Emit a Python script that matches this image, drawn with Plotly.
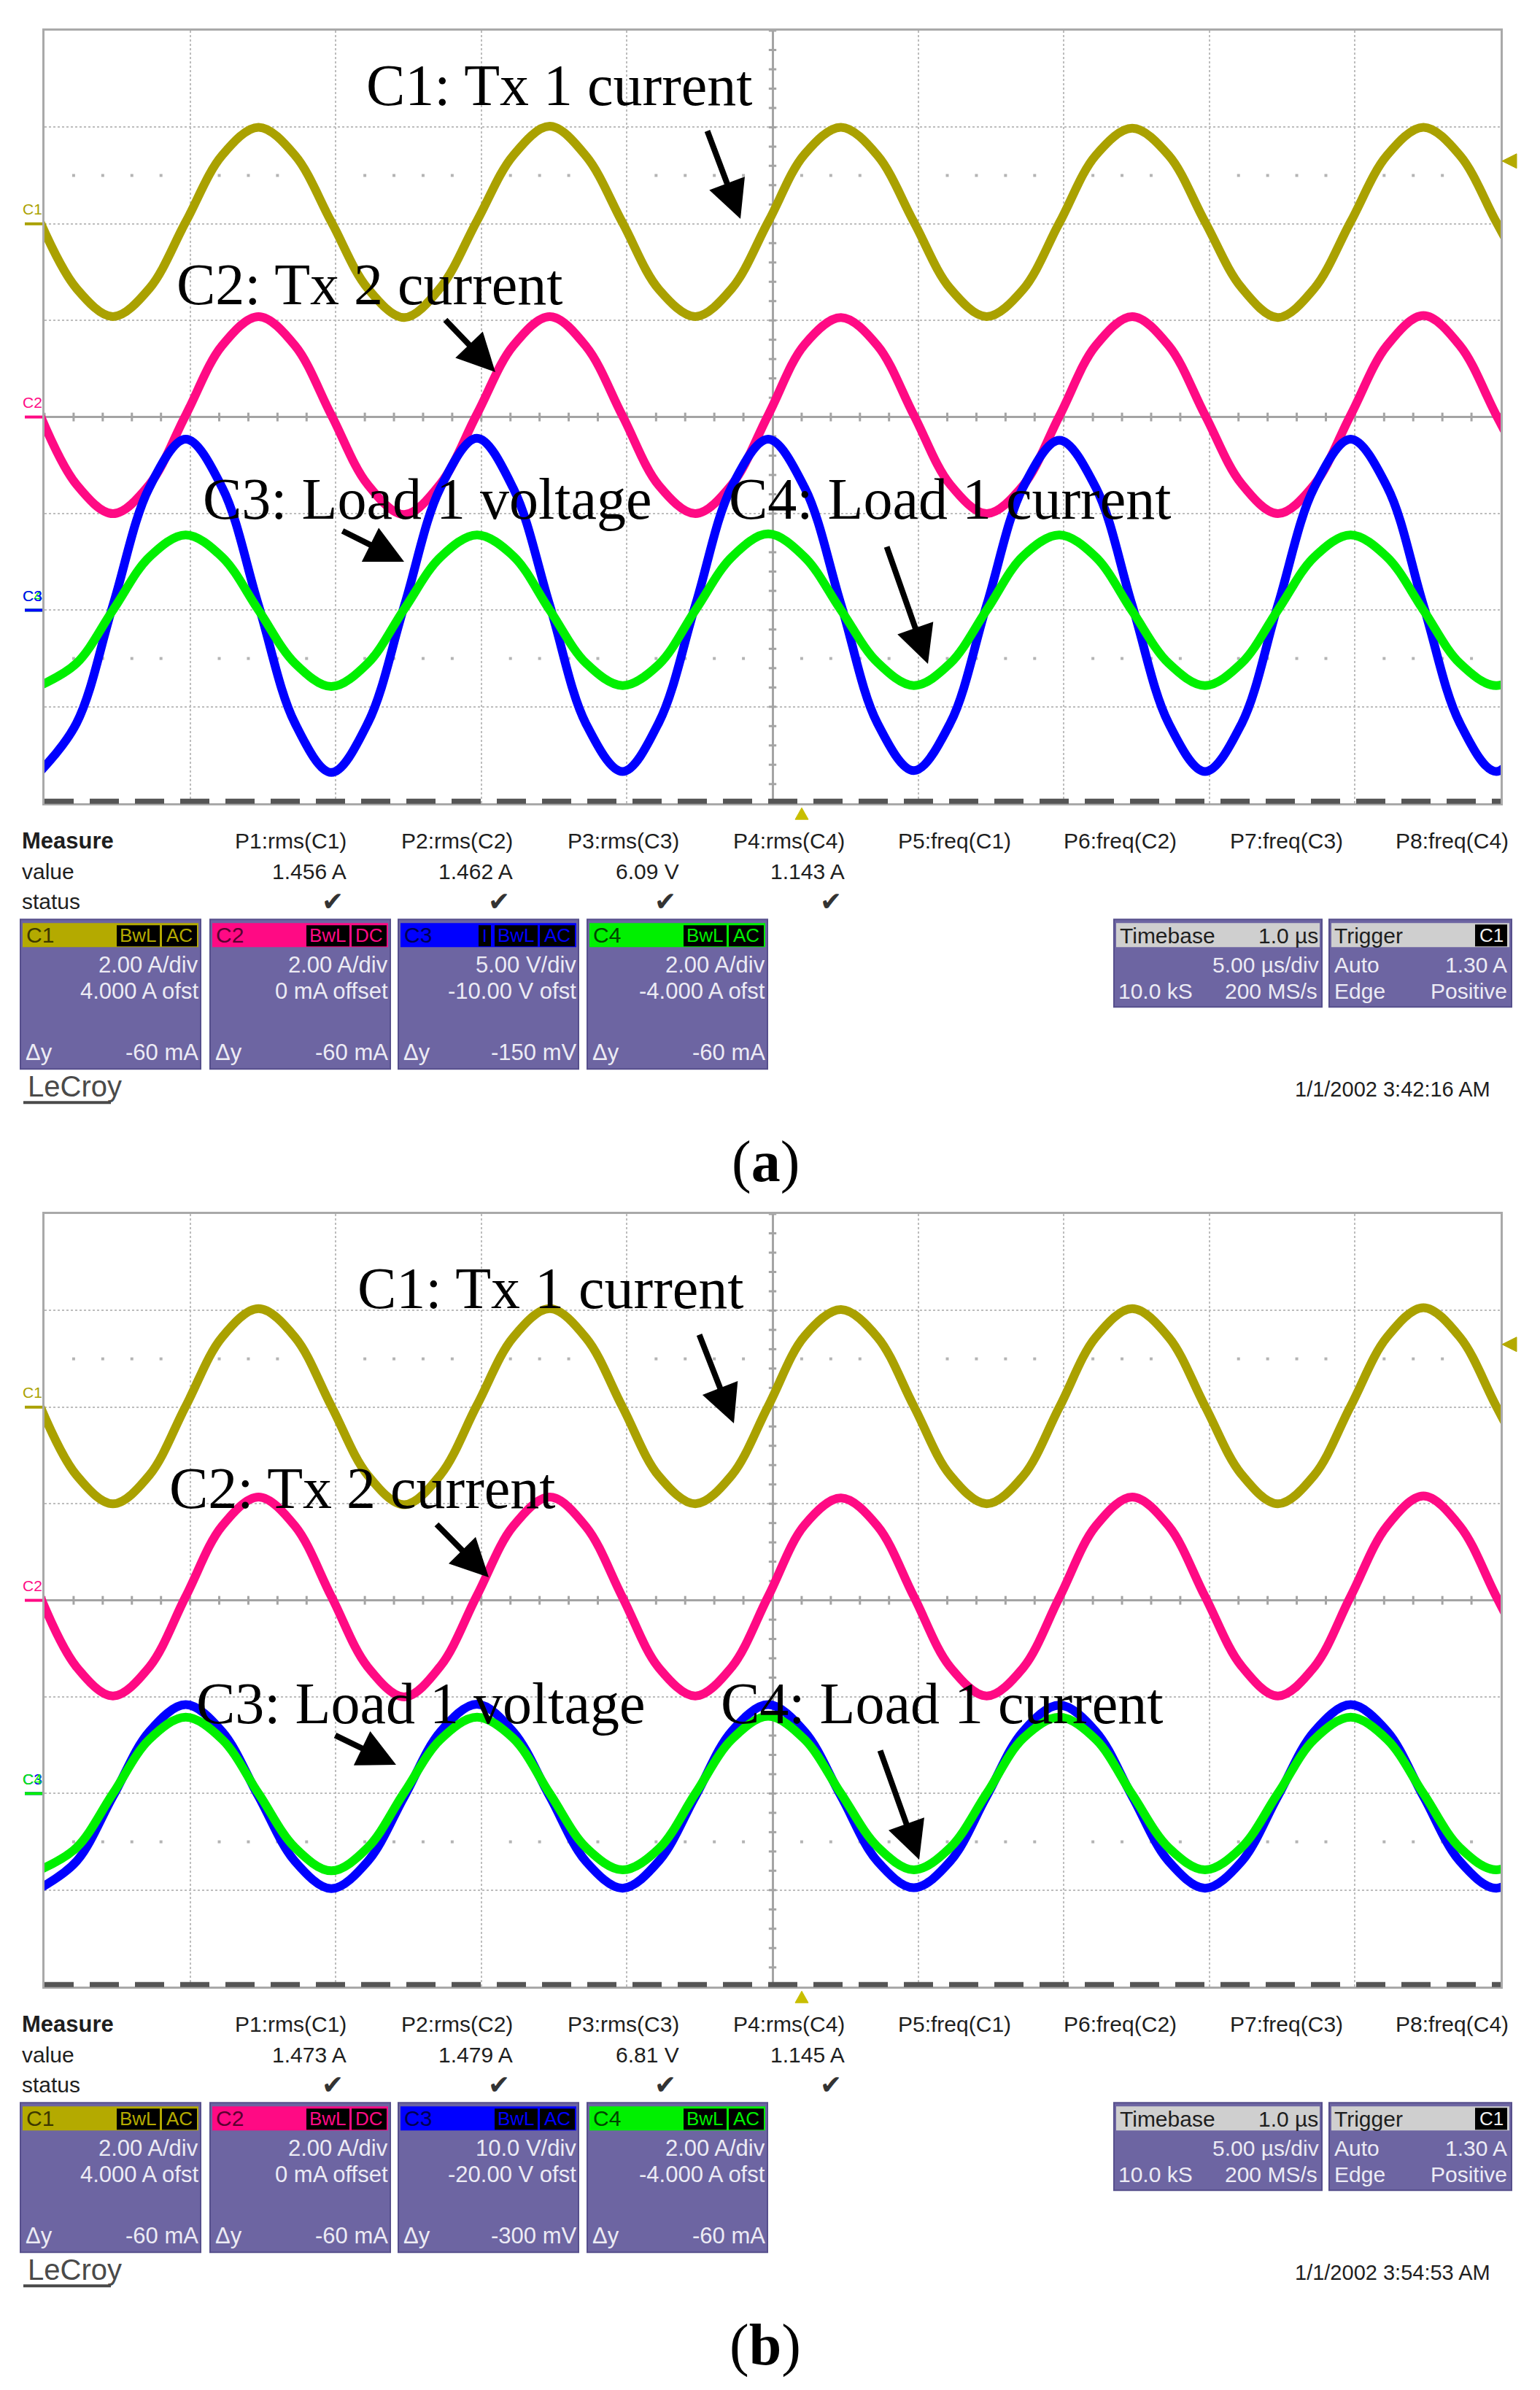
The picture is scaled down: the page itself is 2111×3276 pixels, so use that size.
import plotly.graph_objects as go

W, H = 2111, 3276

# ---------------- data ----------------
# sample times in microseconds (5 us/div, screen spans -25..+25 us)
t_us = [-25.15, -23.9, -22.65, -21.4, -20.15, -18.9, -17.65, -16.4, -15.15, -13.9,
        -12.65, -11.4, -10.15, -8.9, -7.65, -6.4, -5.15, -3.9, -2.65, -1.4,
        -0.15, 1.1, 2.35, 3.6, 4.85, 6.1, 7.35, 8.6, 9.85, 11.1,
        12.35, 13.6, 14.85, 16.1, 17.35, 18.6, 19.85, 21.1, 22.35, 23.6, 24.85, 26.1]

# panel (a)
c1_a = [0.04, -1.34, -1.92, -1.34, 0.04, 1.42, 2.00, 1.42,
        0.04, -1.34, -1.94, -1.32, 0.06, 1.42, 2.02, 1.40,
        0.02, -1.36, -1.92, -1.34, 0.04, 1.44, 2.00, 1.42,
        0.04, -1.34, -1.92, -1.36, 0.02, 1.42, 1.98, 1.42,
        0.04, -1.32, -1.94, -1.34, 0.04, 1.42, 2.00, 1.42,
        0.04, -1.34]
c2_a = [0.04, -1.40, -2.00, -1.40, 0.04, 1.48, 2.08, 1.48,
        0.04, -1.40, -2.02, -1.38, 0.06, 1.48, 2.08, 1.46,
        0.02, -1.42, -2.00, -1.40, 0.04, 1.50, 2.06, 1.48,
        0.04, -1.40, -2.00, -1.42, 0.02, 1.48, 2.08, 1.48,
        0.04, -1.38, -2.00, -1.40, 0.04, 1.48, 2.10, 1.48,
        0.04, -1.40]
c3_a = [-8.35, -5.85, 0.25, 6.35, 8.85, 6.35, 0.25, -5.85,
        -8.40, -5.85, 0.20, 6.35, 8.90, 6.30, 0.25, -5.90,
        -8.35, -5.80, 0.25, 6.40, 8.85, 6.35, 0.30, -5.85,
        -8.30, -5.85, 0.25, 6.35, 8.80, 6.35, 0.25, -5.85,
        -8.35, -5.90, 0.25, 6.35, 8.85, 6.40, 0.25, -5.85,
        -8.35, -5.85]
c4_a = [-1.56, -1.10, 0.00, 1.10, 1.56, 1.10, 0.00, -1.10,
        -1.58, -1.10, 0.02, 1.10, 1.56, 1.12, 0.00, -1.10,
        -1.56, -1.12, 0.00, 1.10, 1.58, 1.10, 0.00, -1.08,
        -1.56, -1.10, 0.00, 1.12, 1.56, 1.10, -0.02, -1.10,
        -1.56, -1.10, 0.00, 1.10, 1.56, 1.10, 0.00, -1.10,
        -1.56, -1.10]
# panel (b)
c1_b = [0.02, -1.41, -2.00, -1.41, 0.02, 1.45, 2.04, 1.45,
        0.02, -1.41, -2.02, -1.40, 0.04, 1.45, 2.04, 1.43,
        0.00, -1.43, -2.00, -1.41, 0.02, 1.47, 2.02, 1.45,
        0.02, -1.41, -2.00, -1.43, 0.00, 1.45, 2.04, 1.45,
        0.02, -1.39, -2.00, -1.41, 0.02, 1.45, 2.06, 1.45,
        0.02, -1.41]
c2_b = [0.08, -1.38, -1.98, -1.38, 0.08, 1.54, 2.14, 1.54,
        0.08, -1.38, -2.00, -1.36, 0.10, 1.54, 2.14, 1.52,
        0.06, -1.40, -1.98, -1.38, 0.08, 1.56, 2.12, 1.54,
        0.08, -1.38, -1.98, -1.40, 0.06, 1.54, 2.14, 1.54,
        0.08, -1.36, -1.98, -1.38, 0.08, 1.54, 2.16, 1.54,
        0.08, -1.38]
c3_b = [-9.80, -7.02, -0.30, 6.42, 9.20, 6.42, -0.30, -7.02,
        -9.85, -7.02, -0.35, 6.42, 9.25, 6.38, -0.30, -7.06,
        -9.80, -6.98, -0.30, 6.46, 9.20, 6.42, -0.26, -7.02,
        -9.76, -7.02, -0.30, 6.42, 9.15, 6.42, -0.30, -7.02,
        -9.80, -7.06, -0.30, 6.42, 9.20, 6.46, -0.30, -7.02,
        -9.80, -7.02]
c4_b = [-1.58, -1.12, 0.00, 1.12, 1.58, 1.12, 0.00, -1.12,
        -1.60, -1.12, 0.02, 1.12, 1.58, 1.14, 0.00, -1.12,
        -1.58, -1.14, 0.00, 1.12, 1.60, 1.12, 0.00, -1.10,
        -1.58, -1.12, 0.00, 1.14, 1.58, 1.12, -0.02, -1.12,
        -1.58, -1.12, 0.00, 1.12, 1.58, 1.12, 0.00, -1.12,
        -1.58, -1.12]

# channel settings (volts-or-amps per div, offset)
vdiv_a = [2.0, 2.0, 5.0, 2.0]
ofst_a = [4.0, 0.0, -10.0, -4.0]
vdiv_b = [2.0, 2.0, 10.0, 2.0]
ofst_b = [4.0, 0.0, -20.0, -4.0]

# text read from the screens
meas_names = ["P1:rms(C1)", "P2:rms(C2)", "P3:rms(C3)", "P4:rms(C4)",
              "P5:freq(C1)", "P6:freq(C2)", "P7:freq(C3)", "P8:freq(C4)"]
meas_vals_a = ["1.456 A", "1.462 A", "6.09 V", "1.143 A"]
meas_vals_b = ["1.473 A", "1.479 A", "6.81 V", "1.145 A"]
vdiv_txt_a = ["2.00 A/div", "2.00 A/div", "5.00 V/div", "2.00 A/div"]
vdiv_txt_b = ["2.00 A/div", "2.00 A/div", "10.0 V/div", "2.00 A/div"]
ofst_txt_a = ["4.000 A ofst", "0 mA offset", "-10.00 V ofst", "-4.000 A ofst"]
ofst_txt_b = ["4.000 A ofst", "0 mA offset", "-20.00 V ofst", "-4.000 A ofst"]
dy_txt_a = ["-60 mA", "-60 mA", "-150 mV", "-60 mA"]
dy_txt_b = ["-60 mA", "-60 mA", "-300 mV", "-60 mA"]
coupling = ["AC", "DC", "AC", "AC"]
dates = ["1/1/2002 3:42:16 AM", "1/1/2002 3:54:53 AM"]
captions = ["a", "b"]

labels_a = [("C1: Tx 1 current", 767, 117), ("C2: Tx 2 current", 507, 390),
            ("C3: Load 1 voltage", 585, 684), ("C4: Load 1 current", 1302, 684)]
labels_b = [("C1: Tx 1 current", 755, 1766), ("C2: Tx 2 current", 497, 2040),
            ("C3: Load 1 voltage", 576, 2335), ("C4: Load 1 current", 1291, 2335)]
arrows_a = [((969, 178), (1015, 300)), ((609, 437), (679, 510)),
            ((468, 727), (554, 770)), ((1215, 748), (1272, 910))]
arrows_b = [((958, 1828), (1006, 1951)), ((597, 2088), (670, 2162)),
            ((458, 2378), (543, 2419)), ((1206, 2398), (1260, 2549))]

# ---------------- styling ----------------
TRACE_COL = ["#aaa100", "#ff0a84", "#0000ff", "#00f000"]
HEAD_COL = ["#b4aa00", "#ff0a84", "#0000ff", "#00f000"]
HEAD_TXT = ["#3c3800", "#5a0030", "#000050", "#004400"]
BOX_FILL = "#6d65a2"
BOX_LINE = "#564f8c"
BOX_TXT = "#ecebf4"
SANS = "Liberation Sans, Arial, sans-serif"
SERIF = "Liberation Serif, Times New Roman, serif"

GX0, GX1 = 61, 2057
DIV_PX = 132.4


def X(px):
    return px / W


def Y(py):
    return 1 - py / H


shapes = []
annotations = []


def rect(x0, y0, x1, y1, fill, line=None, lw=0):
    shapes.append(dict(type="rect", xref="paper", yref="paper",
                       x0=X(x0), x1=X(x1), y0=Y(y1), y1=Y(y0),
                       fillcolor=fill, line=dict(color=line or fill, width=lw),
                       layer="above"))


def hline(x0, x1, y, color, width, dash="solid"):
    shapes.append(dict(type="line", xref="paper", yref="paper",
                       x0=X(x0), x1=X(x1), y0=Y(y), y1=Y(y),
                       line=dict(color=color, width=width, dash=dash), layer="above"))


def tri(pts, color):
    path = "M " + " L ".join(f"{X(a):.6f},{Y(b):.6f}" for a, b in pts) + " Z"
    shapes.append(dict(type="path", xref="paper", yref="paper", path=path,
                       fillcolor=color, line=dict(color=color, width=1), layer="above"))


def text(x, y, s, size=30, color="#1e1e1e", xanchor="left", family=SANS):
    annotations.append(dict(xref="paper", yref="paper", x=X(x), y=Y(y), text=s,
                            showarrow=False, xanchor=xanchor, yanchor="middle",
                            font=dict(size=size, color=color, family=family)))


def arrow(tail, head):
    (tx, ty), (hx, hy) = tail, head
    annotations.append(dict(xref="paper", yref="paper", x=X(hx), y=Y(hy),
                            ax=tx - hx, ay=ty - hy, axref="pixel", ayref="pixel",
                            text="", showarrow=True, arrowhead=2, arrowsize=1.3,
                            arrowwidth=8, arrowcolor="black", standoff=0))


fig = go.Figure()


def build_panel(idx, top, series, vdiv, ofst, vdiv_txt, ofst_txt, dy_txt,
                meas_vals, labels, arrows, date, cap):
    bottom = top + 8 * DIV_PX
    xa = "x" if idx == 0 else "x2"
    ya = "y" if idx == 0 else "y2"
    axis_common = dict(showticklabels=False, ticks="", fixedrange=True,
                       showgrid=True, gridcolor="#bdbdbd", griddash="dot", gridwidth=2,
                       zeroline=True, zerolinecolor="#a4a4a4", zerolinewidth=3,
                       showline=True, mirror=True, linecolor="#a9a9a9", linewidth=3)
    xkey = "xaxis" if idx == 0 else "xaxis2"
    ykey = "yaxis" if idx == 0 else "yaxis2"
    fig.update_layout(**{
        xkey: dict(domain=[X(GX0), X(GX1)], range=[-25, 25], dtick=5, tick0=0,
                   anchor=ya, **axis_common),
        ykey: dict(domain=[Y(bottom), Y(top)], range=[-4, 4], dtick=1, tick0=0,
                   anchor=xa, **axis_common),
    })

    # minor ticks on the centre cross and dotted rows
    tx, ty = [], []
    for i in range(-25, 26):
        if i != 0:
            tx += [i, i, None]
            ty += [-0.045, 0.045, None]
    for j in range(-20, 21):
        if j != 0:
            tx += [-0.13, 0.13, None]
            ty += [j / 5, j / 5, None]
    fig.add_trace(go.Scatter(x=tx, y=ty, mode="lines", xaxis=xa, yaxis=ya,
                             line=dict(color="#a4a4a4", width=3), hoverinfo="skip"))
    dx = [i for i in range(-24, 25) if i % 5 != 0]
    fig.add_trace(go.Scatter(x=dx + dx, y=[2.5] * len(dx) + [-2.5] * len(dx),
                             mode="markers", xaxis=xa, yaxis=ya, hoverinfo="skip",
                             marker=dict(symbol="square", size=4, color="#b4b4b4")))

    # waveforms
    for k, vals in enumerate(series):
        ydiv = [(v + ofst[k]) / vdiv[k] for v in vals]
        fig.add_trace(go.Scatter(x=t_us, y=ydiv, mode="lines", xaxis=xa, yaxis=ya,
                                 line=dict(color=TRACE_COL[k], width=12, shape="spline",
                                           smoothing=1.0),
                                 hoverinfo="skip"))

    # bottom dashed strip
    hline(GX0, GX1, bottom - 3, "#555555", 7, dash="40px,22px")

    # channel ground markers + labels
    order = [0, 1, 3, 2] if idx == 0 else [0, 1, 2, 3]
    for k in order:
        gdiv = ofst[k] / vdiv[k]
        gy = top + (4 - gdiv) * DIV_PX
        hline(34, 58, gy, TRACE_COL[k], 4)
        text(29, gy - 20, f"C{k + 1}", size=21, color=TRACE_COL[k])

    # trigger level (C1 1.30 A) and trigger position markers
    lvl = top + (4 - (1.30 + ofst[0]) / vdiv[0]) * DIV_PX
    tri([(2059, lvl), (2079, lvl - 10), (2079, lvl + 10)], "#b4aa00")
    tri([(1099, bottom + 6), (1090, bottom + 22), (1108, bottom + 22)], "#c8be00")

    # big labels and arrows
    for s, cx, cy in labels:
        text(cx, cy, s, size=80, color="black", xanchor="center", family=SERIF)
    for tail, head in arrows:
        arrow(tail, head)

    # measurement table
    off = bottom - 1101
    text(28, 1152 + off, "<b>Measure</b>", size=31)
    text(28, 1194 + off, "value", size=30)
    text(28, 1235 + off, "status", size=30)
    col_r = [477, 705, 933, 1160, 1388, 1615, 1843, 2070]
    for i, name in enumerate(meas_names):
        text(col_r[i], 1152 + off, name, size=30, xanchor="right")
    for i, v in enumerate(meas_vals):
        text(col_r[i], 1194 + off, v, size=30, xanchor="right")
        text(col_r[i] - 4, 1235 + off, "\u2714", size=36, color="#333333",
             xanchor="right", family="DejaVu Sans, sans-serif")

    # channel boxes
    lefts = [28, 288, 546, 805]
    for k, bl in enumerate(lefts):
        br = bl + 247
        rect(bl, 1260 + off, br, 1465 + off, BOX_FILL, BOX_LINE, 2)
        rect(bl + 3, 1265 + off, br - 3, 1298 + off, HEAD_COL[k])
        text(bl + 6, 1281 + off, f"C{k + 1}", size=30, color=HEAD_TXT[k])
        rect(bl + 132, 1268 + off, bl + 191, 1297 + off, "#000000")
        rect(bl + 194, 1268 + off, bl + 242, 1297 + off, "#000000")
        text(bl + 161.5, 1282 + off, "BwL", size=26, color=HEAD_COL[k], xanchor="center")
        text(bl + 218, 1282 + off, coupling[k], size=26, color=HEAD_COL[k], xanchor="center")
        if idx == 0 and k == 2:
            rect(bl + 110, 1268 + off, bl + 127, 1297 + off, "#000000")
            text(bl + 118.5, 1282 + off, "I", size=24, color=HEAD_COL[k], xanchor="center")
        text(br - 1, 1322 + off, vdiv_txt[k], size=31, color=BOX_TXT, xanchor="right")
        text(br - 1, 1358 + off, ofst_txt[k], size=31, color=BOX_TXT, xanchor="right")
        text(bl + 5, 1442 + off, "\u0394y", size=31, color=BOX_TXT)
        text(br - 1, 1442 + off, dy_txt[k], size=31, color=BOX_TXT, xanchor="right")

    # timebase / trigger boxes
    rect(1527, 1260 + off, 1812, 1380 + off, BOX_FILL, BOX_LINE, 2)
    rect(1822, 1260 + off, 2072, 1380 + off, BOX_FILL, BOX_LINE, 2)
    rect(1530, 1265 + off, 1809, 1298 + off, "#cfcfcf")
    rect(1825, 1265 + off, 2069, 1298 + off, "#cfcfcf")
    text(1533, 1282 + off, "Timebase", size=30)
    text(1809, 1282 + off, "1.0 \u00b5s", size=30, xanchor="right")
    text(1827, 1282 + off, "Trigger", size=30)
    rect(2022, 1267 + off, 2066, 1297 + off, "#000000")
    text(2044, 1282 + off, "C1", size=26, color="#f0f0f0", xanchor="center")
    text(1810, 1322 + off, "5.00 \u00b5s/div", size=30, color=BOX_TXT, xanchor="right")
    text(1531, 1358 + off, "10.0 kS", size=30, color=BOX_TXT)
    text(1808, 1358 + off, "200 MS/s", size=30, color=BOX_TXT, xanchor="right")
    text(1827, 1322 + off, "Auto", size=30, color=BOX_TXT)
    text(2068, 1322 + off, "1.30 A", size=30, color=BOX_TXT, xanchor="right")
    text(1827, 1358 + off, "Edge", size=30, color=BOX_TXT)
    text(2068, 1358 + off, "Positive", size=30, color=BOX_TXT, xanchor="right")

    # logo, date, caption
    text(36, 1489 + off, "LeCroy", size=40, color="#4a4a4a")
    hline(32, 152, 1511 + off, "#4a4a4a", 4)
    text(2045, 1493 + off, date, size=29, xanchor="right")
    text(1049, 1592 + off, f"(<b>{cap}</b>)", size=80, color="black",
         xanchor="center", family=SERIF)


build_panel(0, 42, [c1_a, c2_a, c3_a, c4_a], vdiv_a, ofst_a, vdiv_txt_a, ofst_txt_a,
            dy_txt_a, meas_vals_a, labels_a, arrows_a, dates[0], captions[0])
build_panel(1, 1664, [c1_b, c2_b, c3_b, c4_b], vdiv_b, ofst_b, vdiv_txt_b, ofst_txt_b,
            dy_txt_b, meas_vals_b, labels_b, arrows_b, dates[1], captions[1])

fig.update_layout(width=W, height=H, margin=dict(l=0, r=0, t=0, b=0),
                  paper_bgcolor="white", plot_bgcolor="white", showlegend=False,
                  shapes=shapes, annotations=annotations)

fig.write_html("out.html", config={"displayModeBar": False},
               post_script="document.body.style.margin='0';document.body.style.overflow='hidden';")
